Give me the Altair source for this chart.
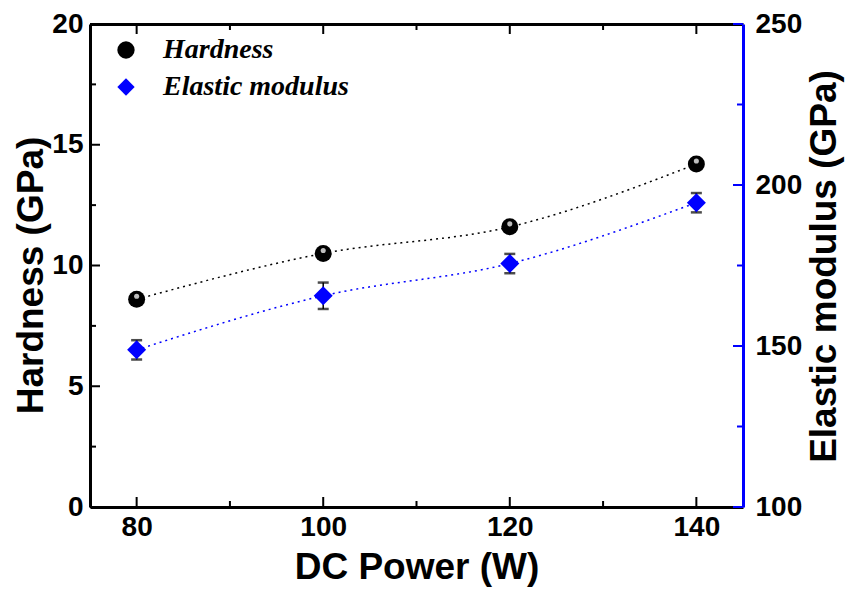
import altair as alt
import pandas as pd

# ---- data ----
power = [80, 100, 120, 140]
hardness = [8.6, 10.5, 11.6, 14.2]
modulus = [148.8, 165.6, 175.6, 194.5]
modulus_err = [3.0, 4.1, 3.0, 3.0]

x_major = [80, 100, 120, 140]
x_minor = [90, 110, 130]
h_major = [0, 5, 10, 15, 20]
h_minor = [2.5, 7.5, 12.5, 17.5]
e_major = [100, 150, 200, 250]
e_minor = [125, 175, 225]

series_names = ["Hardness", "Elastic modulus"]

# ---- layout / style ----
W, H = 653, 483
FONT = "Liberation Sans"
SERIF = "Liberation Serif"
LABEL_SIZE = 28

hdf = pd.DataFrame({"power": power, "value": hardness, "series": series_names[0]})
edf = pd.DataFrame({"power": power, "value": modulus, "err": modulus_err,
                    "series": series_names[1]})

xscale = alt.Scale(domain=[75, 145], nice=False, zero=False)
hscale = alt.Scale(domain=[0, 20], nice=False, zero=False)
escale = alt.Scale(domain=[100, 250], nice=False, zero=False)
color_scale = alt.Scale(domain=series_names, range=["black", "blue"])
shape_scale = alt.Scale(domain=series_names, range=["circle", "diamond"])

legend = alt.Legend(title=None, orient="none", legendX=22, legendY=12,
                    labelFont=SERIF, labelFontSize=28, labelFontStyle="italic",
                    labelFontWeight="bold", labelColor="black", labelLimit=0,
                    symbolSize=300, symbolStrokeWidth=0, symbolOpacity=1,
                    labelOffset=23, rowPadding=9, padding=0)

x_bottom_axis = alt.Axis(orient="bottom", values=x_major, ticks=False, grid=False,
                         domainColor="black", domainWidth=3,
                         labelFont=FONT, labelFontSize=LABEL_SIZE, labelFontWeight="bold",
                         labelColor="black", labelPadding=6,
                         title="DC Power (W)", titleFont=FONT, titleFontSize=37,
                         titleFontWeight="bold", titleColor="black",
                         titleBaseline="alphabetic", titleY=71)
x_top_axis = alt.Axis(orient="top", ticks=False, labels=False, grid=False,
                      domainColor="black", domainWidth=3, title=None)
h_axis = alt.Axis(orient="left", values=h_major, ticks=False, grid=False,
                  domainColor="black", domainWidth=3,
                  labelFont=FONT, labelFontSize=LABEL_SIZE, labelFontWeight="bold",
                  labelColor="black", labelPadding=7,
                  title="Hardness (GPa)", titleFont=FONT, titleFontSize=37,
                  titleFontWeight="bold", titleColor="black", titleAngle=270,
                  titleBaseline="alphabetic", titleX=-48, titleY=251)
e_axis = alt.Axis(orient="right", values=e_major, ticks=False, grid=False,
                  domainColor="blue", domainWidth=3,
                  labelFont=FONT, labelFontSize=LABEL_SIZE, labelFontWeight="bold",
                  labelColor="black", labelPadding=12,
                  title="Elastic modulus (GPa)", titleFont=FONT, titleFontSize=37,
                  titleFontWeight="bold", titleColor="black", titleAngle=270,
                  titleBaseline="alphabetic", titleX=92, titleY=242)

xmaj = pd.DataFrame({"t": x_major})
xmin = pd.DataFrame({"t": x_minor})
hmaj = pd.DataFrame({"t": h_major})
hmin = pd.DataFrame({"t": h_minor})
emaj = pd.DataFrame({"t": e_major})
emin = pd.DataFrame({"t": e_minor})


def xticks(df, y0, y1, axis=None):
    return alt.Chart(df).mark_rule(color="black", strokeWidth=2).encode(
        x=alt.X("t:Q", scale=xscale, axis=axis),
        y=alt.value(y0), y2=alt.value(y1))


def yticks(df, scale, x0, x1, color):
    return alt.Chart(df).mark_rule(color=color, strokeWidth=2).encode(
        y=alt.Y("t:Q", scale=scale, axis=None),
        x=alt.value(x0), x2=alt.value(x1))


# ---- hardness ----
h_line = alt.Chart(hdf).mark_line(color="black", strokeDash=[2, 4], strokeWidth=1.5,
                                  interpolate="monotone").encode(
    x=alt.X("power:Q", scale=xscale, axis=x_bottom_axis),
    y=alt.Y("value:Q", scale=hscale, axis=h_axis),
)
h_pts = alt.Chart(hdf).mark_point(filled=True, size=289, opacity=1, strokeWidth=0).encode(
    x=alt.X("power:Q", scale=xscale, axis=None),
    y=alt.Y("value:Q", scale=hscale, axis=None),
    color=alt.Color("series:N", scale=color_scale, legend=legend),
    shape=alt.Shape("series:N", scale=shape_scale, legend=legend),
)
h_shine = alt.Chart(hdf).mark_circle(color="#bdbdbd", size=26, opacity=1).encode(
    x=alt.X("power:Q", scale=xscale, axis=None),
    y=alt.Y("value:Q", scale=hscale, axis=None),
    yOffset=alt.value(-3),
)

# ---- elastic modulus ----
e_line = alt.Chart(edf).mark_line(color="blue", strokeDash=[2, 4], strokeWidth=1.5,
                                  interpolate="monotone").encode(
    x=alt.X("power:Q", scale=xscale, axis=None),
    y=alt.Y("value:Q", scale=escale, axis=e_axis),
)
e_err = alt.Chart(edf).mark_errorbar(ticks={"size": 11, "thickness": 2.5},
                                     color="black", thickness=1.5).encode(
    x=alt.X("power:Q", scale=xscale, axis=None),
    y=alt.Y("value:Q", scale=escale, axis=None, title=None),
    yError="err:Q",
)
e_pts = alt.Chart(edf).mark_point(filled=True, size=361, opacity=1, strokeWidth=0).encode(
    x=alt.X("power:Q", scale=xscale, axis=None),
    y=alt.Y("value:Q", scale=escale, axis=None),
    color=alt.Color("series:N", scale=color_scale, legend=legend),
    shape=alt.Shape("series:N", scale=shape_scale, legend=legend),
)

chart = alt.layer(
    xticks(xmaj, H, H - 10),
    xticks(xmin, H, H - 6),
    xticks(xmaj, 0, 10, axis=x_top_axis),
    xticks(xmin, 0, 6),
    yticks(hmaj, hscale, 0, 10, "black"),
    yticks(hmin, hscale, 0, 6, "black"),
    yticks(emaj, escale, W, W - 10, "blue"),
    yticks(emin, escale, W, W - 6, "blue"),
    h_line, e_line, e_err, h_pts, h_shine, e_pts,
).resolve_scale(y="independent").properties(
    width=W, height=H,
    autosize=alt.AutoSizeParams(type="none"),
    padding={"left": 90, "top": 24, "right": 111, "bottom": 82},
    background="white",
).configure_view(stroke=None)

chart.save("out.html", embed_options={"renderer": "svg", "actions": False})
